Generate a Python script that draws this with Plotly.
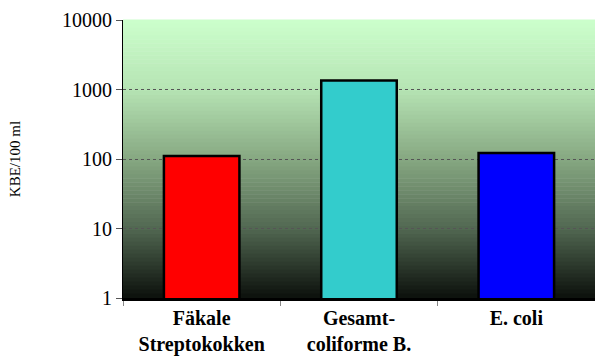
import plotly.graph_objects as go

# Data
categories = ['Fäkale<br>Streptokokken', 'Gesamt-<br>coliforme B.', 'E. coli']
values = [110, 1350, 122]
bar_colors = ['#ff0000', '#33cccc', '#0000ff']
y_ticks = [1, 10, 100, 1000, 10000]

SERIF = 'Liberation Serif, Times New Roman, serif'

fig = go.Figure()
fig.add_trace(go.Bar(
    x=categories,
    y=values,
    width=0.48,
    marker=dict(color=bar_colors, line=dict(color='black', width=2.5)),
))

# gradient background: light green on top, near black at bottom
stops = [(0.0, (204, 255, 204)), (0.25, (182, 228, 180)), (0.5, (135, 168, 130)),
         (0.75, (82, 104, 82)), (1.0, (12, 16, 12))]


def grad(t):
    for (t0, c0), (t1, c1) in zip(stops[:-1], stops[1:]):
        if t <= t1:
            f = (t - t0) / (t1 - t0)
            return 'rgb(%d,%d,%d)' % tuple(round(a + (b - a) * f) for a, b in zip(c0, c1))
    return 'rgb(%d,%d,%d)' % stops[-1][1]


n = 70
shapes = []
for i in range(n):
    t = (i + 0.5) / n
    shapes.append(dict(
        type='rect', xref='x domain', yref='y domain',
        x0=0, x1=1, y0=1 - (i + 1) / n, y1=1 - i / n + 0.002,
        fillcolor=grad(t), line=dict(width=0), layer='below',
    ))

fig.update_layout(
    width=595, height=358,
    margin=dict(l=123, r=0, t=20, b=60),
    paper_bgcolor='white',
    plot_bgcolor='white',
    shapes=shapes,
    showlegend=False,
    font=dict(family=SERIF, color='black'),
)
fig.update_yaxes(
    type='log', range=[0, 4],
    tickvals=y_ticks, ticktext=[str(v) for v in y_ticks],
    tickfont=dict(size=20, family=SERIF),
    ticks='outside', ticklen=6, tickcolor='#555',
    showgrid=True, gridcolor='#555', gridwidth=1, griddash='dot',
    showline=True, linecolor='black', linewidth=1,
    title=dict(text='KBE/100 ml', font=dict(size=15, family=SERIF), standoff=37),
    zeroline=False, automargin=False,
)
fig.update_xaxes(
    tickson='boundaries', ticks='outside', ticklen=5, tickcolor='#888',
    tickfont=dict(size=20, family=SERIF),
    showline=True, linecolor='black', linewidth=2.5,
    tickprefix='<b>', ticksuffix='</b>',
    range=[-0.5, 2.5], automargin=False,
)
fig.write_html('out.html', config={'displayModeBar': False},
               post_script="document.body.style.margin='0';")
